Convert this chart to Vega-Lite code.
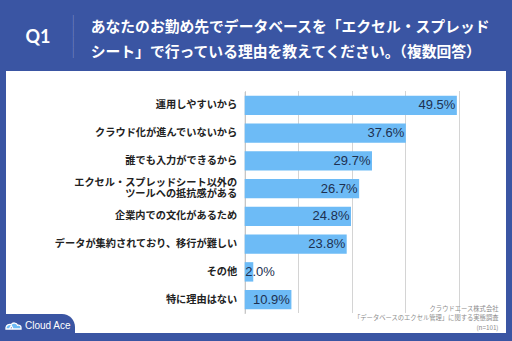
{
  "$schema": "https://vega.github.io/schema/vega-lite/v6.json",
  "width": 500,
  "height": 262,
  "autosize": {"type": "none"},
  "padding": {"left": 6, "top": 71, "right": 6, "bottom": 8},
  "background": "#3a55a3",
  "config": {"view": {"fill": "#ffffff", "stroke": null}},
  "title": {
    "text": ["あなたのお勤め先でデータベースを「エクセル・スプレッド", "シート」で行っている理由を教えてください。（複数回答）"],
    "anchor": "start",
    "frame": "group",
    "dx": 84.7,
    "dy": 59,
    "font": "Noto Sans CJK JP",
    "fontSize": 14.8,
    "fontWeight": "bold",
    "color": "#ffffff",
    "lineHeight": 25,
    "offset": 14
  },
  "data": {
    "values": [
      {"reason": "運用しやすいから", "share": 0.495},
      {"reason": "クラウド化が進んでいないから", "share": 0.376},
      {"reason": "誰でも入力ができるから", "share": 0.297},
      {"reason": "エクセル・スプレッドシート以外の\nツールへの抵抗感がある", "share": 0.267},
      {"reason": "企業内での文化があるため", "share": 0.248},
      {"reason": "データが集約されており、移行が難しい", "share": 0.238},
      {"reason": "その他", "share": 0.020},
      {"reason": "特に理由はない", "share": 0.109}
    ]
  },
  "layer": [
    {
      "mark": {"type": "bar", "color": "#6dbbf6", "strokeWidth": 0},
      "encoding": {
        "y": {
          "field": "reason",
          "type": "nominal",
          "sort": null,
          "scale": {"range": [20.5, 242.5], "paddingInner": 0.3, "paddingOuter": 0.15},
          "axis": {
            "orient": "left",
            "title": "Q1",
            "titleX": -207.2,
            "titleY": -34,
            "titleAngle": 0,
            "titleAlign": "center",
            "titleBaseline": "middle",
            "titleFont": "Lato",
            "titleFontSize": 18,
            "titleFontWeight": "bold",
            "titleColor": "#ffffff",
            "offset": -238.7,
            "labelFont": "Noto Sans CJK JP",
            "labelFontSize": 10.2,
            "labelFontWeight": "bold",
            "labelColor": "#222222",
            "labelPadding": 8,
            "labelBaseline": "middle",
            "labelOffset": {"condition": {"test": "indexof(datum.label, '\\n') >= 0", "value": -5.2}, "value": 0},
            "ticks": false,
            "tickSize": 0,
            "domainColor": "#c0c0c0",
            "labelExpr": "split(datum.label, '\\n')",
            "labelLineHeight": 11,
            "labelLimit": 300,
            "grid": false
          }
        },
        "x": {
          "field": "share",
          "type": "quantitative",
          "scale": {"domain": [0, 0.5], "range": [238.7, 453], "nice": false},
          "axis": {
            "values": [0, 0.125, 0.25, 0.375, 0.5],
            "grid": true,
            "gridColor": "#d4d4d4",
            "labels": false,
            "ticks": false,
            "domain": false,
            "title": ["クラウドエース株式会社", "「データベースのエクセル管理」に関する実態調査", "(n=101)"],
            "titleFont": "Noto Sans CJK JP",
            "titleFontSize": 6.3,
            "titleFontWeight": "normal",
            "titleColor": "#8c8c8c",
            "titleAlign": "right",
            "titleBaseline": "middle",
            "titleX": 492,
            "titleY": -24.7,
            "titleLineHeight": 9.7
          }
        },
        "stroke": {
          "datum": "Cloud Ace",
          "scale": {"range": ["#ffffff"]},
          "legend": {
            "orient": "none",
            "legendX": -26,
            "legendY": 243,
            "fillColor": "#3a55a3",
            "cornerRadius": 13,
            "padding": 3.5,
            "title": " ",
            "titleOrient": "bottom",
            "titleFontSize": 10,
            "titlePadding": 4,
            "symbolType": "M-1,0.4 L1,0.4 L1,0.2 C1,-0.05 0.75,-0.15 0.55,-0.1 C0.4,-0.45 -0.1,-0.5 -0.3,-0.2 C-0.6,-0.3 -0.95,-0.1 -1,0.2 Z M-0.55,0.4 L-0.3,-0.05 L-0.05,0.4",
            "symbolSize": 225,
            "symbolStrokeColor": "#ffffff",
            "symbolStrokeWidth": 1.3,
            "symbolOffset": 21.5,
            "labelOffset": 3,
            "labelColor": "#ffffff",
            "labelFont": "Liberation Sans",
            "labelFontSize": 10
          }
        }
      }
    },
    {
      "transform": [{"filter": "datum.share >= 0.05"}],
      "mark": {"type": "text", "align": "right", "baseline": "middle", "dx": -1.5, "font": "Liberation Sans", "fontSize": 13, "color": "#1d3050"},
      "encoding": {
        "y": {
          "field": "reason",
          "type": "nominal",
          "sort": null,
          "axis": {
            "orient": "right",
            "labels": false,
            "ticks": false,
            "domain": false,
            "grid": false,
            "title": "────",
            "titleFont": "Noto Sans CJK JP",
            "titleFontSize": 10.75,
            "titleFontWeight": "normal",
            "titleColor": "#8e9dd3",
            "titleAngle": 90,
            "titleAlign": "center",
            "titleBaseline": "middle",
            "titleX": -434.5,
            "titleY": -35
          }
        },
        "x": {"field": "share", "type": "quantitative"},
        "text": {"field": "share", "type": "quantitative", "format": ".1%"}
      }
    },
    {
      "transform": [{"filter": "datum.share < 0.05"}],
      "mark": {"type": "text", "align": "left", "baseline": "middle", "dx": 0.5, "font": "Liberation Sans", "fontSize": 13, "color": "#1d3050"},
      "encoding": {
        "y": {"field": "reason", "type": "nominal", "sort": null, "axis": null},
        "x": {"datum": 0, "type": "quantitative"},
        "text": {"field": "share", "type": "quantitative", "format": ".1%"}
      }
    }
  ],
  "resolve": {"axis": {"y": "independent"}}
}
